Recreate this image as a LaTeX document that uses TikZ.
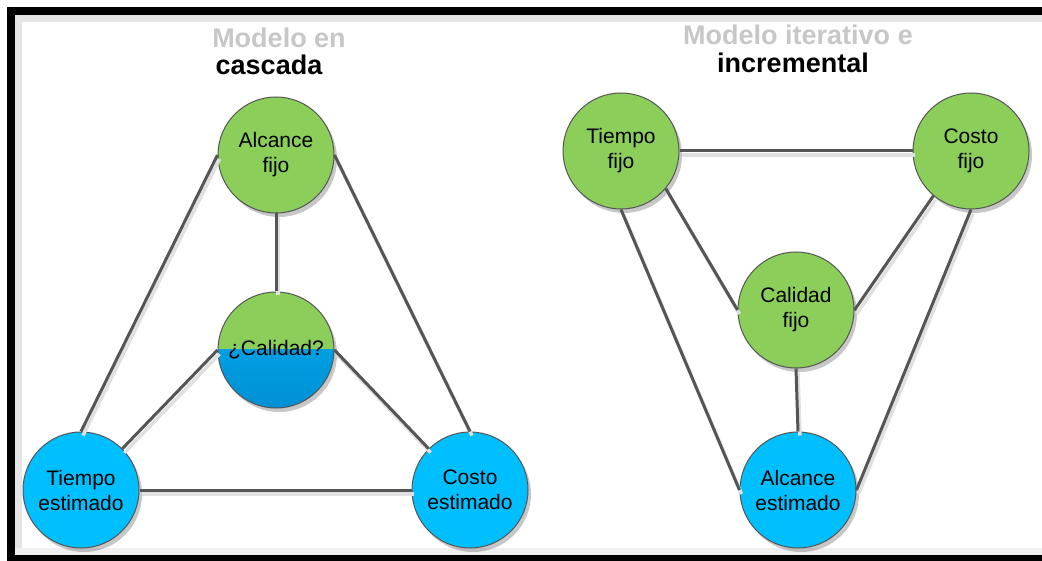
\documentclass[tikz,border=0pt]{standalone}
\usepackage{fontspec}
\setmainfont{Liberation Sans}
\usetikzlibrary{shadows}
\definecolor{nodegreen}{HTML}{8BCF5A}
\definecolor{nodeblue}{HTML}{00BFFF}
\definecolor{qblueTop}{HTML}{00AEEF}
\definecolor{qblueBot}{HTML}{0090D4}
\definecolor{edgegray}{HTML}{555555}
\tikzset{
  circ/.style={circle, minimum size=116pt, inner sep=0pt, draw=edgegray, line width=1pt,
    align=center, font=\fontsize{21}{25}\selectfont,
    drop shadow={shadow xshift=3pt, shadow yshift=-4pt, fill=black, opacity=0.22}},
  fixnode/.style={circ, fill=nodegreen},
  estnode/.style={circ, fill=nodeblue},
  link/.style={draw=edgegray, line width=3pt,
    preaction={draw=black!12, line width=3.5pt, transform canvas={shift={(2pt,-4pt)}}}},
  titlefont/.style={font=\bfseries\fontsize{27}{30}\selectfont},
  blurtext/.style={titlefont, text=black!22},
}
\begin{document}
\begin{tikzpicture}[x=1pt, y=-1pt]
\useasboundingbox (0,0) rectangle (1042,561);
\fill[white] (0,0) rectangle (1042,561);
% frame
\fill[black!10] (15,15) rectangle (1042,22);
\fill[black!10] (15,15) rectangle (22,555);
\fill[black!6] (15,548) rectangle (1042,555);
\fill[black] (7,7) rectangle (1042,15);
\fill[black] (7,7) rectangle (15,561);
\fill[black] (7,555) rectangle (1042,561);

% blurred first lines of the titles
\node[blurtext] (b1) at (279,38) {Modelo en};
\node[blurtext] (b2) at (798,35) {Modelo iterativo e};
% titles
\node[titlefont] (t1) at (269,65) {cascada};
\node[titlefont] (t2) at (793,63) {incremental};

% ---------- Left: cascada ----------
\node[fixnode] (al) at (276,155) {Alcance\\fijo};
\node[circ, fill=nodegreen,
  path picture={\shade[top color=qblueTop, bottom color=qblueBot]
    (path picture bounding box.west) rectangle (path picture bounding box.south east);}]
  (q) at (276,350) {¿Calidad?};
\node[estnode] (te) at (81,490) {Tiempo\\estimado};
\node[estnode] (ce) at (470,490) {Costo\\estimado};

% ---------- Right: iterativo e incremental ----------
\node[fixnode] (tf) at (621,151) {Tiempo\\fijo};
\node[fixnode] (cf) at (971,151) {Costo\\fijo};
\node[fixnode] (qf) at (796,310) {Calidad\\fijo};
\node[estnode] (ae) at (798,490) {Alcance\\estimado};

% connectors
\draw[link] (al.west) -- (te.north);
\draw[link] (al.east) -- (ce.north);
\draw[link] (al.south) -- (q.north);
\draw[link] (q.west) -- (te.45);
\draw[link] (q.east) -- (ce.135);
\draw[link] (te.east) -- (ce.west);

\draw[link] (tf.east) -- (cf.west);
\draw[link] (tf.-40) -- (qf.west);
\draw[link] (cf.-130) -- (qf.east);
\draw[link] (qf.south) -- (ae.north);
\draw[link] (tf.south) -- (ae.west);
\draw[link] (cf.south) -- (ae.east);
\end{tikzpicture}
\end{document}
